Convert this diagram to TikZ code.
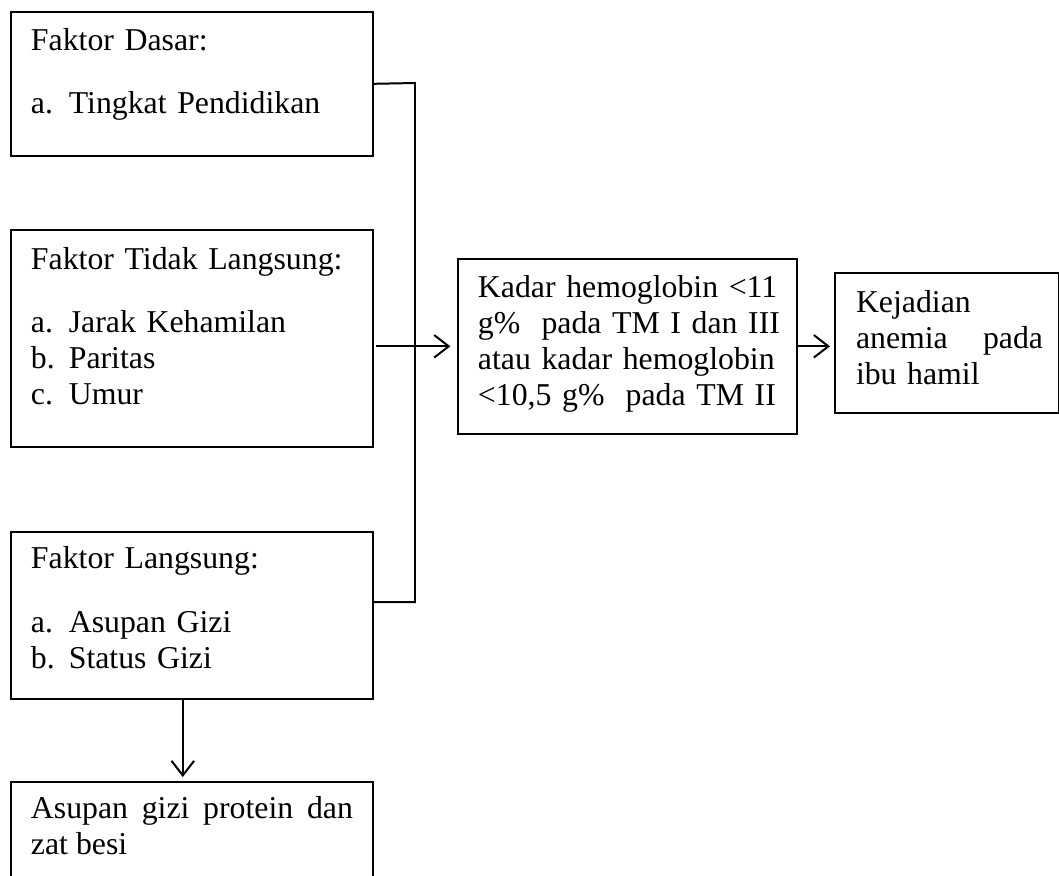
\documentclass[tikz,border=0pt]{standalone}
\usepackage{fontspec}
\setmainfont{Liberation Serif}
\usetikzlibrary{arrows.meta}
\newcommand{\butir}[1]{\makebox[14.3pt][l]{#1}}
\newcommand{\rata}[1]{\makebox[\hsize][s]{#1}}
\begin{document}
\begin{tikzpicture}[x=0.3774pt, y=-0.3774pt, line width=0.75pt,
  >={Straight Barb[length=5.5pt,width=8.5pt]},
  kotak/.style={draw, line width=0.6pt, anchor=north west, inner sep=0pt, minimum width=136.62pt},
  isi/.style={anchor=base west, inner sep=0pt, text width=#1, align=left,
    font=\fontsize{12}{13.6}\selectfont},
  isi/.default=121.5pt]
\fontsize{12}{13.6}\selectfont
\useasboundingbox (0,0) rectangle (1059,875);
\clip (0,0) rectangle (1059,875);
\node[kotak, minimum height=54.35pt] (dasar) at (10,11) {};
\node[kotak, minimum height=81.9pt] (tidak) at (10,229) {};
\node[kotak, minimum height=63.03pt] (langsung) at (10,531) {};
\node[kotak, minimum height=44.91pt] (asupan) at (10,781) {};
\node[kotak, minimum width=127.94pt, minimum height=66.05pt] (hb) at (457,258) {};
\node[kotak, minimum width=84.54pt, minimum height=52.84pt] (kejadian) at (834,272) {};
\node[isi] (tdasar) at (30,50) {Faktor Dasar:\\[10.2pt]\butir{a.}Tingkat Pendidikan};
\node[isi] (ttidak) at (30,269) {Faktor Tidak Langsung:\\[10.2pt]\butir{a.}Jarak Kehamilan\\\butir{b.}Paritas\\\butir{c.}Umur};
\node[isi] (tlangsung) at (30,568) {Faktor Langsung:\\[10.9pt]\butir{a.}Asupan Gizi\\\butir{b.}Status Gizi};
\node[isi, align=justify] (tasupan) at (30,818) {Asupan gizi protein dan zat besi};
\node[isi=112.5pt] (thb) at (477,297) {\rata{Kadar hemoglobin <11}\\\rata{g\%\ \ pada TM I dan III}\\\rata{atau kadar hemoglobin}\\<10,5 g\%\ \ pada TM II};
\node[isi=70.6pt] (tkejadian) at (855,312) {Kejadian\\anemia \hfill pada\\ibu hamil};
\coordinate (atas) at (415,83);
\coordinate (bawah) at (415,602);
\draw (dasar.east) -- (atas) -- (bawah) -- (bawah -| langsung.east);
\draw[->, shorten <=1pt, shorten >=2.5pt] (tidak.east |- hb.west) -- (hb.west);
\draw[->, shorten >=1.5pt] (hb.east) -- (hb.east -| kejadian.west);
\draw[->, shorten >=1.5pt] ([xshift=-3.4pt]langsung.south) -- ([xshift=-3.4pt]asupan.north);
\end{tikzpicture}
\end{document}
